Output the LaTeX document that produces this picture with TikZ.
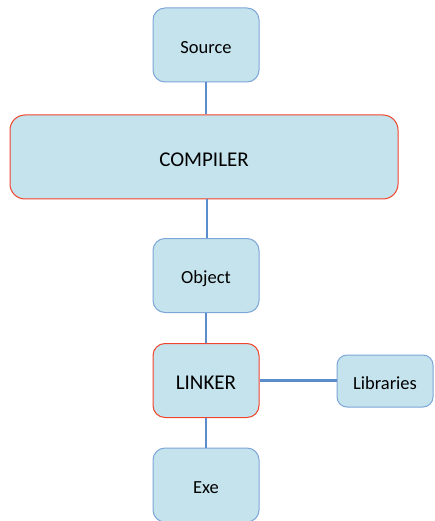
\documentclass[tikz,border=0pt]{standalone}
\usepackage{fontspec}
\setmainfont{Carlito}
\definecolor{boxfill}{HTML}{C4E3EC}
\definecolor{boxblue}{HTML}{7DA6D8}
\definecolor{boxred}{HTML}{F0452D}
\definecolor{linkblue}{HTML}{5B8CCB}
\begin{document}
\begin{tikzpicture}[x=1pt,y=1pt,
  box/.style={draw=boxblue,fill=boxfill,line width=1pt,rounded corners=12pt,
    inner sep=0pt,minimum width=106pt,minimum height=74pt,
    text height=16.9pt,text depth=0pt,font=\fontsize{18.5}{22}\selectfont},
  redbox/.style={box,draw=boxred,text height=18.5pt,font=\fontsize{21}{25}\selectfont},
  link/.style={draw=linkblue,line width=2.4pt}]
\useasboundingbox (0,0) rectangle (434,-521);
\node[box] (source) at (206,-45) {Source};
\node[redbox,minimum width=388pt,minimum height=84pt,rounded corners=15pt] (compiler) at (204,-157) {};
\node at (204,-160) [font=\fontsize{21}{25}\selectfont] (ctext) {COMPILER};
\node[box] (object) at (206,-275.5) {Object};
\node[redbox] (linker) at (206,-380.5) {LINKER};
\node[box] (exe) at (206,-485) {Exe};
\node[box,minimum width=96pt,minimum height=52pt,rounded corners=10pt] (libs) at (385,-381) {Libraries};
\draw[link] (source.south) -- (source.south |- compiler.north);
\draw[link] ([xshift=3pt]compiler.south) -- ([xshift=3pt]compiler.south |- object.north);
\draw[link] (object.south) -- (linker.north);
\draw[link] (linker.south) -- (exe.north);
\draw[link] (linker.east) -- (linker.east -| libs.west);
\end{tikzpicture}
\end{document}
